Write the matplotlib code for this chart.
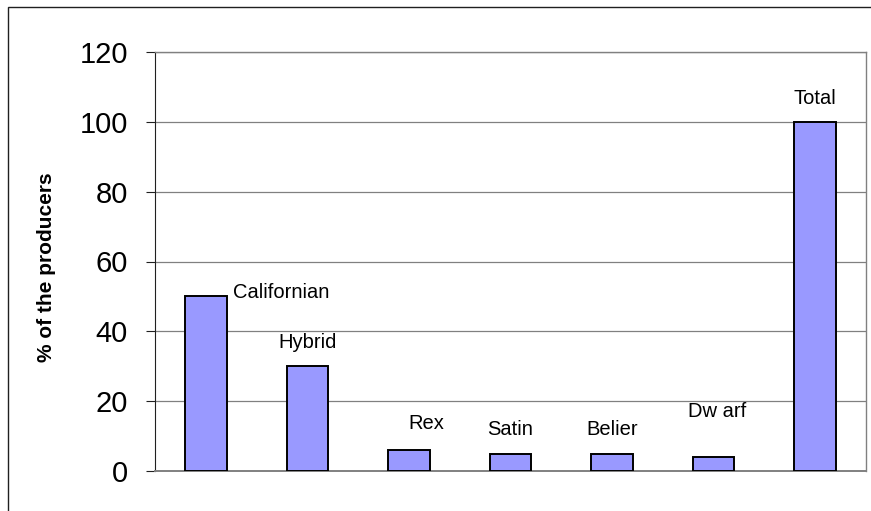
import matplotlib.pyplot as plt
from matplotlib.patches import Rectangle

breeds = ["Californian", "Hybrid", "Rex", "Satin", "Belier", "Dw arf", "Total"]
share = [50, 30, 6, 5, 5, 4, 100]

# label offsets from the top of each bar, in pixels (dx, dy)
label_offsets = [(27, -2), (0, 18), (17, 21), (0, 19), (0, 19), (3.5, 40), (0, 18)]

plt.rcParams['font.family'] = ['Liberation Sans', 'DejaVu Sans']

fig = plt.figure(figsize=(8.71, 5.11), dpi=100)
ax = fig.add_axes([155 / 871, 1 - 471 / 511, (866 - 155) / 871, (471 - 52) / 511])

x = list(range(len(breeds)))
ax.bar(x, share, width=0.41, color='#9999FF', edgecolor='black', linewidth=1.4, zorder=3)

for i, (name, v) in enumerate(zip(breeds, share)):
    dx, dy = label_offsets[i]
    ax.annotate(name, (i, v), xytext=(dx * 0.72, dy * 0.72), textcoords='offset points',
                ha='left' if i == 0 else 'center', va='baseline', fontsize=14.5)

ax.set_xlim(-0.5, len(breeds) - 0.5)
ax.set_ylim(0, 120)
ax.set_yticks(range(0, 121, 20))
ax.set_xticks([])
ax.tick_params(axis='y', direction='out', length=6.5, width=0.8, color='#202020',
               pad=13, labelsize=21)
ax.yaxis.grid(True, color='#808080', linewidth=0.9, zorder=0)

for side in ['top', 'right', 'bottom']:
    ax.spines[side].set_color('#808080')
    ax.spines[side].set_linewidth(1.0)
ax.spines['left'].set_color('#202020')
ax.spines['left'].set_linewidth(0.8)
ax.spines['bottom'].set_linewidth(1.4)

fig.text(47 / 871, 1 - 267 / 511, "% of the producers", rotation=90, ha='center', va='center',
         fontsize=15, fontweight='bold')

# outer chart frame
fig.patches.append(Rectangle((7.5 / 871, -0.1), 1.2, 1 - 7.5 / 511 + 0.1,
                             transform=fig.transFigure, fill=False, edgecolor='#202020',
                             linewidth=1.0))

plt.savefig('out.png', dpi=100)
